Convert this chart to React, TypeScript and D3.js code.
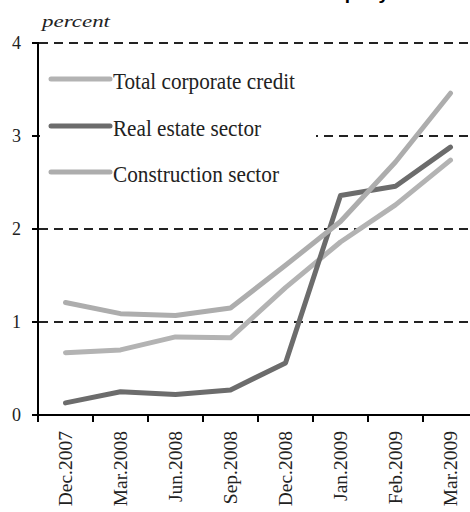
import React from "react";
import * as d3 from "d3";

const categories = ["Dec.2007", "Mar.2008", "Jun.2008", "Sep.2008", "Dec.2008", "Jan.2009", "Feb.2009", "Mar.2009"];
const totalCorporate = [0.67, 0.70, 0.84, 0.83, 1.37, 1.86, 2.26, 2.74];
const realEstate = [0.13, 0.25, 0.22, 0.27, 0.56, 2.36, 2.46, 2.88];
const construction = [1.21, 1.09, 1.07, 1.15, 1.61, 2.08, 2.72, 3.46];
const yTicks = [0, 1, 2, 3, 4];
const seriesNames = ["Total corporate credit", "Real estate sector", "Construction sector"];

const W = 470;
const H = 512;

export default function App() {
  const x = d3.scaleBand<string>().domain(categories).range([38, 478]).padding(0);
  const y = d3.scaleLinear().domain([0, 4]).range([415, 43]);
  const cx = (c: string) => (x(c) ?? 0) + x.bandwidth() / 2;
  const line = d3
    .line<number>()
    .x((_, i) => cx(categories[i]))
    .y((v) => y(v));

  const series = [
    { name: seriesNames[0], values: totalCorporate, color: "#b3b3b3" },
    { name: seriesNames[1], values: realEstate, color: "#6c6c6c" },
    { name: seriesNames[2], values: construction, color: "#adadad" },
  ];
  const legendY = [79, 126, 172];
  const legendLen = [182, 148, 166];

  return (
    <svg
      width={W}
      height={H}
      style={{ position: "absolute", left: 0, top: 0, background: "#fff" }}
      fontFamily="'Liberation Serif', 'Times New Roman', serif"
    >
      <text x={389} y={-1.5} textAnchor="end" fontFamily="'Liberation Sans', Arial, sans-serif" fontWeight="bold" fontSize={19} fill="#000">
        Bad loan ratios of the company
      </text>
      <text x={42} y={27} fontStyle="italic" fontSize={16} textLength={68} lengthAdjust="spacingAndGlyphs" fill="#222">
        percent
      </text>
      {/* grid lines */}
      {yTicks.filter((t) => t > 0).map((t) => (
        <line key={t} x1={39} x2={W} y1={y(t)} y2={y(t)} stroke="#222" strokeWidth={2} strokeDasharray="9 6" />
      ))}
      {/* legend background */}
      <rect x={40} y={50} width={276} height={148} fill="#fff" />
      {/* series */}
      {series.map((s) => (
        <path key={s.name} d={line(s.values) ?? ""} fill="none" stroke={s.color} strokeWidth={5} strokeLinejoin="round" strokeLinecap="round" />
      ))}
      {/* axes */}
      <line x1={38} x2={38} y1={y(4) - 1} y2={y(0)} stroke="#000" strokeWidth={2} />
      <line x1={37} x2={W} y1={y(0)} y2={y(0)} stroke="#000" strokeWidth={2} />
      {yTicks.map((t) => (
        <g key={t}>
          <line x1={32} x2={38} y1={y(t)} y2={y(t)} stroke="#000" strokeWidth={2} />
          <text x={21} y={y(t) + 6} textAnchor="end" fontSize={18} fill="#222">
            {t}
          </text>
        </g>
      ))}
      {categories.map((c) => (
        <line key={c} x1={x(c)} x2={x(c)} y1={y(0)} y2={y(0) + 7} stroke="#000" strokeWidth={2} />
      ))}
      {categories.map((c) => (
        <text key={c} transform={`translate(${cx(c) + 6.5},431) rotate(-90)`} textAnchor="end" fontSize={19.5} fill="#222">
          {c}
        </text>
      ))}
      {/* legend */}
      {series.map((s, i) => (
        <g key={s.name}>
          <line x1={51} x2={110} y1={legendY[i]} y2={legendY[i]} stroke={s.color} strokeWidth={5} strokeLinecap="round" />
          <text x={113} y={legendY[i] + 10} fontSize={23} textLength={legendLen[i]} lengthAdjust="spacingAndGlyphs" fill="#222">
            {s.name}
          </text>
        </g>
      ))}
    </svg>
  );
}
